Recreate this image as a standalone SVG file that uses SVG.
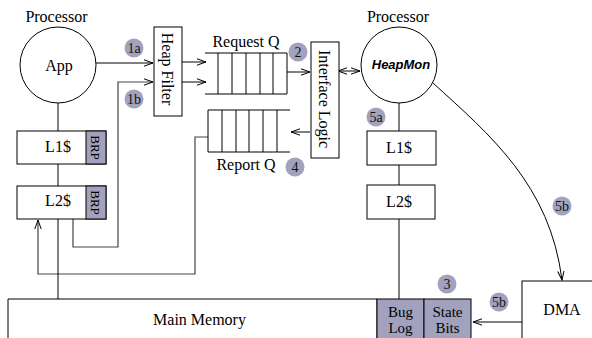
<svg xmlns="http://www.w3.org/2000/svg" width="592" height="338" viewBox="0 0 592 338">
<style>
.t{font-family:"Liberation Serif","Times New Roman",serif;font-size:16px;fill:#000}
.m{text-anchor:middle}
.sm{font-size:15px}
.b{font-family:"Liberation Serif","Times New Roman",serif;font-size:14px;fill:#111;text-anchor:middle}
.hm{font-family:"Liberation Sans",Arial,sans-serif;font-size:13px;font-weight:bold;font-style:italic;text-anchor:middle}
.s{fill:#fff;stroke:#000;stroke-width:1}
.f{fill:#a2a2be;stroke:#000;stroke-width:1}
.badge{fill:#a2a2be}
.ln{fill:none;stroke:#000;stroke-width:1}
.g{fill:none;stroke:#444;stroke-width:1.2}
</style>
<defs>
<marker id="ah" markerWidth="10" markerHeight="8" refX="9" refY="4" orient="auto" markerUnits="userSpaceOnUse">
<path d="M0,0.8 L9,4 L0,7.2" fill="none" stroke="#000" stroke-width="1"/>
</marker>
<marker id="as" markerWidth="10" markerHeight="8" refX="1" refY="4" orient="auto" markerUnits="userSpaceOnUse">
<path d="M9,0.8 L0,4 L9,7.2" fill="none" stroke="#000" stroke-width="1"/>
</marker>
</defs>

<g id="connectors">
<line class="ln" x1="96" y1="63" x2="153" y2="63" marker-end="url(#ah)"/>
<path class="g" d="M73,219 V247 H118 V82 H153" marker-end="url(#ah)"/>
<line class="ln" x1="182" y1="62" x2="206" y2="62" marker-end="url(#ah)"/>
<line class="ln" x1="182" y1="82" x2="206" y2="82" marker-end="url(#ah)"/>
<line class="ln" x1="287" y1="72" x2="310" y2="72" marker-end="url(#ah)"/>
<line class="ln" x1="339" y1="71" x2="360" y2="71" marker-start="url(#as)" marker-end="url(#ah)"/>
<line class="ln" x1="310" y1="132" x2="291" y2="132" marker-end="url(#ah)"/>
<path class="g" d="M208,137 H195 V274 H38 V220" marker-end="url(#ah)"/>
<line class="ln" x1="58" y1="103" x2="58" y2="131"/>
<line class="ln" x1="58" y1="164" x2="58" y2="186"/>
<line class="ln" x1="58" y1="219" x2="58" y2="299"/>
<line class="ln" x1="399" y1="103" x2="399" y2="131"/>
<line class="ln" x1="399" y1="165" x2="399" y2="185"/>
<line class="ln" x1="399" y1="219" x2="399" y2="299"/>
<path class="ln" d="M433,83 C490,135 550,185 562,280" marker-end="url(#ah)"/>
<line class="ln" x1="522" y1="322" x2="473" y2="322" marker-end="url(#ah)"/>
</g>

<g id="app">
<text class="t m" x="56.5" y="22">Processor</text>
<circle class="s" cx="58" cy="65" r="38"/>
<text class="t m" x="59" y="71">App</text>
</g>

<g id="app-l1">
<rect class="s" x="17" y="131" width="89" height="33"/>
<rect class="f" x="86" y="131" width="20" height="33"/>
<text class="t m" x="58" y="152">L1$</text>
<text class="t m" style="font-size:13px" transform="translate(96,147.5) rotate(90)" dy="0.35em">BRP</text>
</g>

<g id="app-l2">
<rect class="s" x="17" y="186" width="89" height="33"/>
<rect class="f" x="86" y="186" width="20" height="33"/>
<text class="t m" x="58" y="206">L2$</text>
<text class="t m" style="font-size:13px" transform="translate(96,202.5) rotate(90)" dy="0.35em">BRP</text>
</g>

<g id="heap-filter">
<rect class="s" x="154" y="27" width="28" height="89"/>
<text class="t m" transform="translate(168,69) rotate(90)" dy="0.35em">Heap Filter</text>
</g>

<g id="request-q">
<text class="t m" x="246" y="47">Request Q</text>
<path class="ln" d="M205,53 H287 M205,94 H287 M218,53 V94 M232,53 V94 M246,53 V94 M260,53 V94 M273,53 V94 M287,53 V94"/>
</g>

<g id="report-q">
<path class="ln" d="M208,110 H290 M208,152 H290 M208,110 V152 M222,110 V152 M236,110 V152 M249,110 V152 M263,110 V152 M277,110 V152"/>
<text class="t m" x="246" y="170">Report Q</text>
</g>

<g id="interface-logic">
<rect class="s" x="311" y="42" width="28" height="116"/>
<text class="t m" transform="translate(325,99) rotate(90)" dy="0.35em">Interface Logic</text>
</g>

<g id="heapmon">
<text class="t m" x="398" y="22">Processor</text>
<circle class="s" cx="399" cy="65" r="38"/>
<text class="hm" x="401" y="69">HeapMon</text>
</g>

<g id="hm-l1">
<rect class="s" x="367" y="131" width="69" height="34"/>
<text class="t m" x="399" y="153">L1$</text>
</g>

<g id="hm-l2">
<rect class="s" x="367" y="185" width="68" height="34"/>
<text class="t m" x="399" y="207">L2$</text>
</g>

<g id="main-memory">
<path class="s" d="M8,350 V299 H377 V350"/>
<text class="t m" x="199.5" y="325">Main Memory</text>
</g>

<g id="bug-log">
<rect class="f" x="377" y="299" width="47" height="50"/>
<text class="t m sm" x="400.5" y="316.5">Bug</text>
<text class="t m sm" x="400.5" y="333">Log</text>
</g>

<g id="state-bits">
<rect class="f" x="424" y="299" width="47" height="50"/>
<text class="t m sm" x="447.5" y="316.5">State</text>
<text class="t m sm" x="447.5" y="333">Bits</text>
</g>

<g id="dma">
<rect class="s" x="522" y="281" width="80" height="70"/>
<text class="t m" x="562" y="315">DMA</text>
</g>

<g id="badges">
<circle class="badge" cx="134" cy="48" r="9.5"/><text class="b" x="134" y="53">1a</text>
<circle class="badge" cx="134" cy="99" r="9.5"/><text class="b" x="134" y="104">1b</text>
<circle class="badge" cx="298" cy="52" r="9.5"/><text class="b" x="298" y="57">2</text>
<circle class="badge" cx="295" cy="167" r="9.5"/><text class="b" x="295" y="172">4</text>
<circle class="badge" cx="376" cy="117" r="9.5"/><text class="b" x="376" y="122">5a</text>
<circle class="badge" cx="562" cy="206" r="9.5"/><text class="b" x="562" y="211">5b</text>
<circle class="badge" cx="447" cy="284" r="9.5"/><text class="b" x="447" y="289">3</text>
<circle class="badge" cx="499" cy="302" r="9.5"/><text class="b" x="499" y="307">5b</text>
</g>
</svg>
